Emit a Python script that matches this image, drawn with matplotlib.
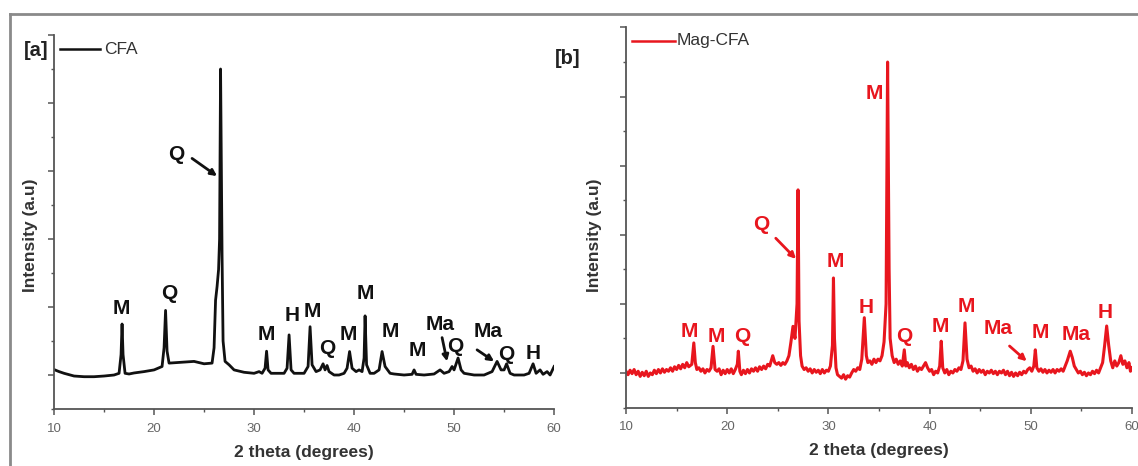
#!/usr/bin/env python3
"""XRD patterns of raw (CFA) and magnetic (Mag-CFA) coal fly ash, side by side."""
import matplotlib
matplotlib.use("Agg")
import matplotlib.pyplot as plt
from matplotlib.lines import Line2D
from matplotlib.ticker import MultipleLocator

plt.rcParams["font.family"] = ["Liberation Sans", "DejaVu Sans"]

# ---- data: (2theta, intensity a.u.) ----
CFA_PTS = [
    (10.0, 0.16), (10.5, 0.10), (11.0, 0.05), (12.0, -0.03), (13.0, -0.05),
    (14.0, -0.05), (15.0, -0.03), (16.0, 0.0), (16.5, 0.05), (16.7, 0.6),
    (16.8, 1.5), (16.9, 0.6), (17.1, 0.05), (17.5, 0.03), (18.0, 0.06),
    (19.0, 0.10), (20.0, 0.15), (20.8, 0.25), (21.0, 0.8), (21.15, 1.9),
    (21.3, 0.7), (21.5, 0.35), (22.0, 0.36), (23.0, 0.38), (24.0, 0.40),
    (25.0, 0.33), (25.8, 0.35), (26.0, 0.8), (26.15, 2.2), (26.3, 2.6),
    (26.45, 3.1), (26.55, 4.0), (26.65, 9.0), (26.8, 3.5), (26.9, 1.0),
    (27.1, 0.4), (27.5, 0.3), (28.0, 0.15), (29.0, 0.08), (30.0, 0.05),
    (30.5, 0.1), (30.8, 0.05), (31.1, 0.2), (31.25, 0.7), (31.4, 0.15),
    (31.7, 0.05), (32.0, 0.05), (33.0, 0.05), (33.3, 0.2), (33.5, 1.18),
    (33.7, 0.15), (34.0, 0.05), (35.0, 0.05), (35.4, 0.25), (35.6, 1.42),
    (35.8, 0.3), (36.2, 0.1), (36.6, 0.15), (36.9, 0.33), (37.1, 0.15),
    (37.3, 0.28), (37.5, 0.1), (38.0, 0.0), (38.5, 0.0), (39.0, 0.05),
    (39.3, 0.2), (39.55, 0.69), (39.8, 0.2), (40.2, 0.1), (40.5, 0.15),
    (40.8, 0.1), (41.0, 0.5), (41.1, 1.74), (41.25, 0.3), (41.6, 0.05),
    (42.0, 0.05), (42.5, 0.15), (42.8, 0.69), (43.1, 0.25), (43.6, 0.05),
    (44.0, 0.03), (45.0, 0.0), (45.8, 0.02), (46.0, 0.15), (46.2, 0.02),
    (47.0, 0.0), (48.0, 0.03), (48.6, 0.15), (49.0, 0.05), (49.5, 0.1),
    (49.8, 0.25), (50.0, 0.15), (50.4, 0.5), (50.7, 0.15), (51.0, 0.05),
    (52.0, 0.0), (53.0, 0.0), (53.8, 0.1), (54.3, 0.4), (54.7, 0.15),
    (55.0, 0.15), (55.25, 0.33), (55.6, 0.05), (56.0, 0.0), (57.0, 0.0),
    (57.5, 0.05), (57.9, 0.33), (58.2, 0.05), (58.6, 0.15), (58.9, 0.02),
    (59.3, 0.1), (59.6, 0.0), (60.0, 0.25),
]

MAG_PTS = [
    (10.0, 0.05), (10.2, -0.05), (10.4, 0.08), (10.6, -0.02), (10.8, 0.1),
    (11.0, -0.05), (11.2, 0.05), (11.4, -0.1), (11.6, 0.02), (11.8, -0.08),
    (12.0, 0.05), (12.2, -0.1), (12.4, 0.0), (12.6, -0.05), (12.8, 0.08),
    (13.0, -0.02), (13.2, 0.1), (13.4, 0.0), (13.6, 0.12), (13.8, 0.02),
    (14.0, 0.1), (14.2, 0.05), (14.4, 0.15), (14.6, 0.05), (14.8, 0.18),
    (15.0, 0.1), (15.2, 0.22), (15.4, 0.12), (15.6, 0.25), (15.8, 0.15),
    (16.0, 0.3), (16.2, 0.18), (16.5, 0.25), (16.7, 0.87), (16.85, 0.3),
    (17.0, 0.1), (17.2, 0.15), (17.4, 0.05), (17.6, 0.12), (17.8, 0.0),
    (18.0, 0.1), (18.2, 0.05), (18.4, 0.15), (18.6, 0.77), (18.8, 0.1),
    (19.0, 0.05), (19.2, 0.12), (19.4, -0.05), (19.6, 0.08), (19.8, -0.02),
    (20.0, 0.1), (20.2, 0.0), (20.4, 0.12), (20.6, -0.02), (20.8, 0.1),
    (21.0, 0.25), (21.1, 0.63), (21.25, 0.05), (21.4, -0.05), (21.6, 0.08),
    (21.8, -0.02), (22.0, 0.1), (22.2, 0.0), (22.4, 0.12), (22.6, 0.05),
    (22.8, 0.15), (23.0, 0.05), (23.2, 0.18), (23.4, 0.1), (23.6, 0.2),
    (23.8, 0.12), (24.0, 0.25), (24.2, 0.2), (24.5, 0.5), (24.7, 0.3),
    (24.9, 0.25), (25.1, 0.3), (25.3, 0.22), (25.5, 0.3), (25.7, 0.25),
    (25.9, 0.35), (26.1, 0.5), (26.3, 0.9), (26.5, 1.35), (26.7, 1.0),
    (26.9, 2.0), (27.0, 5.3), (27.1, 1.5), (27.25, 0.5), (27.4, 0.2),
    (27.6, 0.1), (27.8, 0.15), (28.0, 0.05), (28.2, 0.12), (28.4, 0.0),
    (28.6, 0.1), (28.8, 0.02), (29.0, 0.08), (29.2, -0.02), (29.4, 0.1),
    (29.6, 0.0), (29.8, 0.08), (30.0, 0.05), (30.2, 0.2), (30.4, 0.8),
    (30.5, 2.75), (30.6, 1.0), (30.75, 0.15), (30.9, -0.05), (31.1, -0.1),
    (31.3, -0.15), (31.5, -0.05), (31.7, -0.18), (31.9, -0.08), (32.1, -0.12),
    (32.3, 0.0), (32.5, 0.1), (32.7, 0.05), (32.9, 0.15), (33.1, 0.1),
    (33.3, 0.4), (33.55, 1.6), (33.75, 0.5), (33.9, 0.3), (34.1, 0.35),
    (34.3, 0.25), (34.5, 0.4), (34.7, 0.3), (34.9, 0.4), (35.1, 0.35),
    (35.3, 0.5), (35.5, 0.9), (35.7, 2.0), (35.85, 9.0), (36.0, 3.0),
    (36.1, 1.0), (36.3, 0.5), (36.5, 0.3), (36.7, 0.4), (36.9, 0.25),
    (37.1, 0.35), (37.3, 0.2), (37.5, 0.67), (37.65, 0.2), (37.8, 0.3),
    (38.0, 0.15), (38.2, 0.25), (38.4, 0.1), (38.6, 0.2), (38.8, 0.05),
    (39.0, 0.15), (39.2, 0.1), (39.4, 0.2), (39.6, 0.3), (39.8, 0.15),
    (40.0, 0.05), (40.2, 0.1), (40.4, -0.05), (40.6, 0.05), (40.8, 0.0),
    (41.0, 0.2), (41.15, 0.92), (41.3, 0.15), (41.5, 0.0), (41.7, 0.1),
    (41.9, -0.05), (42.1, 0.05), (42.3, 0.0), (42.5, 0.1), (42.7, 0.05),
    (42.9, 0.15), (43.1, 0.1), (43.3, 0.35), (43.5, 1.45), (43.7, 0.4),
    (43.9, 0.15), (44.1, 0.2), (44.3, 0.05), (44.5, 0.12), (44.7, 0.0),
    (44.9, 0.1), (45.1, 0.02), (45.3, 0.08), (45.5, -0.05), (45.7, 0.05),
    (45.9, 0.0), (46.1, 0.08), (46.3, -0.02), (46.5, 0.05), (46.7, -0.05),
    (46.9, 0.05), (47.1, 0.0), (47.3, 0.08), (47.5, -0.05), (47.7, 0.05),
    (47.9, -0.08), (48.1, 0.02), (48.3, -0.1), (48.5, 0.0), (48.7, -0.08),
    (48.9, 0.02), (49.1, -0.05), (49.3, 0.05), (49.5, 0.0), (49.7, 0.1),
    (49.9, 0.15), (50.1, 0.05), (50.3, 0.2), (50.45, 0.67), (50.6, 0.15),
    (50.8, 0.05), (51.0, 0.12), (51.2, 0.02), (51.4, 0.1), (51.6, 0.0),
    (51.8, 0.08), (52.0, 0.02), (52.2, 0.1), (52.4, 0.0), (52.6, 0.1),
    (52.8, 0.05), (53.0, 0.12), (53.2, 0.05), (53.4, 0.2), (53.6, 0.35),
    (53.9, 0.63), (54.1, 0.45), (54.3, 0.2), (54.5, 0.1), (54.7, 0.0),
    (54.9, 0.05), (55.1, -0.05), (55.3, 0.02), (55.5, -0.08), (55.7, 0.0),
    (55.9, -0.05), (56.1, 0.05), (56.3, -0.02), (56.5, 0.08), (56.7, 0.0),
    (56.9, 0.15), (57.1, 0.3), (57.3, 0.8), (57.5, 1.36), (57.7, 0.8),
    (57.9, 0.35), (58.1, 0.15), (58.3, 0.35), (58.5, 0.2), (58.7, 0.3),
    (58.9, 0.5), (59.1, 0.25), (59.3, 0.35), (59.5, 0.15), (59.7, 0.3),
    (59.85, 0.05), (60.0, 0.15),
]

# phase labels: (text, 2theta, intensity)
CFA_LABELS = [
    ("M", 16.7, 1.97), ("Q", 21.5, 2.4), ("M", 31.2, 1.18), ("H", 33.8, 1.76),
    ("M", 35.8, 1.86), ("Q", 37.3, 0.78), ("M", 39.4, 1.18), ("M", 41.1, 2.4),
    ("M", 43.6, 1.27), ("M", 46.3, 0.73), ("Ma", 48.6, 1.5), ("Q", 50.1, 0.83),
    ("Ma", 53.4, 1.29), ("Q", 55.2, 0.61), ("H", 57.9, 0.64), ("Q", 22.2, 6.5),
]
CFA_ARROWS = [((23.8, 6.37), (26.3, 5.85)), ((48.8, 1.1), (49.3, 0.4)),
              ((52.3, 0.74), (54.0, 0.4))]

MAG_LABELS = [
    ("M", 34.5, 8.1), ("Q", 23.4, 4.3), ("M", 30.7, 3.24), ("H", 33.75, 1.9),
    ("M", 16.25, 1.2), ("M", 18.9, 1.06), ("Q", 21.5, 1.06), ("Q", 37.5, 1.06),
    ("M", 41.1, 1.35), ("M", 43.6, 1.93), ("Ma", 46.8, 1.3), ("M", 50.9, 1.16),
    ("Ma", 54.5, 1.11), ("H", 57.3, 1.74),
]
MAG_ARROWS = [((24.8, 3.9), (26.8, 3.3)), ((47.9, 0.78), (49.6, 0.34))]

BLACK = "#111111"
RED = "#e8161e"
SPINE = "#555555"


def style_axis(ax, ylabel_x, ylabel_y):
    for side in ("top", "right"):
        ax.spines[side].set_visible(False)
    for side in ("left", "bottom"):
        ax.spines[side].set_color(SPINE)
        ax.spines[side].set_linewidth(1.3)
    ax.set_xlim(10, 60)
    ax.set_ylim(-1, 10)
    ax.xaxis.set_major_locator(MultipleLocator(10))
    ax.xaxis.set_minor_locator(MultipleLocator(5))
    ax.yaxis.set_major_locator(MultipleLocator(2))
    ax.yaxis.set_minor_locator(MultipleLocator(1))
    ax.tick_params(which="major", direction="out", length=4, width=1.1,
                   color=SPINE, labelsize=9.5, labelcolor="#666666", pad=6)
    ax.tick_params(which="minor", direction="out", length=2, width=1,
                   color=SPINE)
    ax.tick_params(axis="y", labelleft=False)
    ax.set_xlabel("2 theta (degrees)", fontsize=12.5, fontweight="bold",
                  color="#333333", labelpad=7)
    ax.set_ylabel("Intensity (a.u)", fontsize=12.5, fontweight="bold",
                  color="#333333")
    ax.yaxis.set_label_coords(ylabel_x, ylabel_y)


def draw_panel(ax, pts, color, lw, labels, arrows, ylabel_xy):
    xs, ys = zip(*pts)
    ax.plot(xs, ys, color=color, lw=lw, solid_joinstyle="round")
    for txt, x, y in labels:
        ax.text(x, y, txt, ha="center", va="center", fontsize=15,
                fontweight="bold", color=color)
    for (x0, y0), (x1, y1) in arrows:
        ax.annotate("", xy=(x1, y1), xytext=(x0, y0),
                    arrowprops=dict(arrowstyle="-|>", color=color, lw=2,
                                    mutation_scale=9, shrinkA=0, shrinkB=0))
    style_axis(ax, *ylabel_xy)


fig = plt.figure(figsize=(11.38, 4.66), dpi=100)
ax_a = fig.add_axes([0.0475, 0.1223, 0.4394, 0.8026])
ax_b = fig.add_axes([0.5501, 0.1255, 0.4446, 0.8155])

draw_panel(ax_a, CFA_PTS, BLACK, 2.0, CFA_LABELS, CFA_ARROWS, (-0.032, 0.465))
draw_panel(ax_b, MAG_PTS, RED, 2.2, MAG_LABELS, MAG_ARROWS, (-0.047, 0.454))

# legend entries and panel tags, placed like the original
W, H = 1138, 466
fig.add_artist(Line2D([60 / W, 100 / W], [1 - 49 / H, 1 - 49 / H], color=BLACK, lw=1.8))
fig.text(104 / W, 1 - 49 / H, "CFA", fontsize=12.5, color="#333333", va="center")
fig.text(24 / W, 1 - 51 / H, "[a]", fontsize=14.5, fontweight="bold", color="#222222", va="center")
fig.add_artist(Line2D([632 / W, 675 / W], [1 - 41 / H, 1 - 41 / H], color=RED, lw=1.8))
fig.text(677 / W, 1 - 41 / H, "Mag-CFA", fontsize=12.5, color="#333333", va="center")
fig.text(555 / W, 1 - 58 / H, "[b]", fontsize=14.5, fontweight="bold", color="#222222", va="center")

# grey frame of the original screenshot
fig.add_artist(Line2D([10 / W, 1], [1 - 14 / H, 1 - 14 / H], color="#8a8a8a", lw=2))
fig.add_artist(Line2D([10 / W, 10 / W], [0, 1 - 14 / H], color="#8a8a8a", lw=2))

fig.savefig("out.png", dpi=100)
